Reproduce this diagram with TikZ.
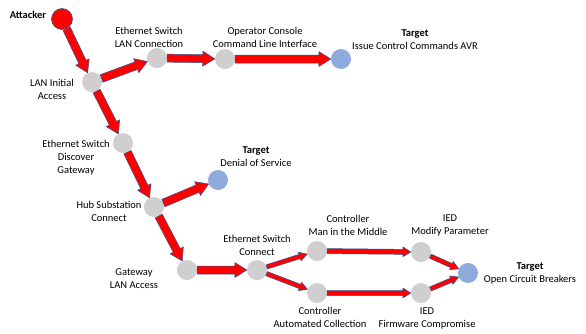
\documentclass[tikz,border=0pt]{standalone}
\usepackage{fontspec}
\setmainfont{Carlito}
\usetikzlibrary{calc}
\definecolor{waygray}{HTML}{D0CECE}
\definecolor{targetblue}{HTML}{8FAADC}
\definecolor{edgeblue}{HTML}{2F5597}
% block arrow: from, to, half shaft, half head, head length
\newcommand\attackhop[5]{%
	\path (#1) -- (#2) coordinate[pos=0] (hs) coordinate[pos=1] (he);
	\coordinate (hh) at ($(he)!#5!(hs)$);
	\filldraw[hop] ($(hs)!#3!90:(he)$) -- ($(hh)!#3!90:(he)$) -- ($(hh)!#4!90:(he)$) -- (he)
		-- ($(hh)!#4!-90:(he)$) -- ($(hh)!#3!-90:(he)$) -- ($(hs)!#3!-90:(he)$) -- cycle;
}
\begin{document}
\begin{tikzpicture}[
		x=1pt,y=-1pt,
		line join=round,
		hop/.style={fill=red,draw=edgeblue,line width=0.5pt},
		waypoint/.style={circle,minimum size=20pt,inner sep=0pt,fill=waygray},
		target/.style={circle,minimum size=20pt,inner sep=0pt,fill=targetblue},
		lbl/.style={font=\fontsize{10.5}{13}\selectfont,align=center,inner sep=0pt}
		]
		\useasboundingbox (0,0) rectangle (586,333);
		% nodes
		\node[circle,minimum size=21pt,inner sep=0pt,fill=red,draw=edgeblue,line width=0.6pt] (attacker) at (62,19) {};
		\node[waypoint] (lan) at (92,82) {};
		\node[waypoint] (eswlan) at (157,58) {};
		\node[waypoint] (opcon) at (225,59) {};
		\node[target] (avr) at (341,59) {};
		\node[waypoint] (esdisc) at (123,143) {};
		\node[waypoint] (hub) at (154,207) {};
		\node[target] (dos) at (218,180) {};
		\node[waypoint] (gwlan) at (187,270) {};
		\node[waypoint] (esconn) at (257,270) {};
		\node[waypoint] (ctlmitm) at (317,251) {};
		\node[waypoint] (ctlauto) at (317,293) {};
		\node[waypoint] (iedmod) at (421,252) {};
		\node[waypoint] (iedfw) at (421,293) {};
		\node[target] (ocb) at (468,273) {};
		% labels
		\node[lbl] (attackerlbl) at (28,15) {\textbf{Attacker}};
		\node[lbl] (lanlbl) at (52,89) {LAN Initial\\Access};
		\node[lbl] (eswlanlbl) at (149,37) {Ethernet Switch\\LAN Connection};
		\node[lbl] (opconlbl) at (265,37) {Operator Console\\Command Line Interface};
		\node[lbl] (avrlbl) at (415,40) {\textbf{Target}\\Issue Control Commands AVR};
		\node[lbl] (esdisclbl) at (76,158) {Ethernet Switch\\Discover\\Gateway};
		\node[lbl] (hublbl) at (109,211) {Hub Substation\\Connect};
		\node[lbl] (doslbl) at (256,157) {\textbf{Target}\\Denial of Service};
		\node[lbl] (gwlanlbl) at (134,279) {Gateway\\LAN Access};
		\node[lbl] (esconnlbl) at (257,245) {Ethernet Switch\\Connect};
		\node[lbl] (ctlmitmlbl) at (348,225) {Controller\\Man in the Middle};
		\node[lbl] (ctlautolbl) at (320,317) {Controller\\Automated Collection};
		\node[lbl] (iedmodlbl) at (450,225) {IED\\Modify Parameter};
		\node[lbl] (iedfwlbl) at (427,318) {IED\\Firmware Compromise};
		\node[lbl] (ocblbl) at (530,273) {\textbf{Target}\\Open Circuit Breakers};
		% attack paths
		\attackhop{attacker}{lan}{4pt}{7.5pt}{12pt}
		\attackhop{lan}{eswlan}{4pt}{7.5pt}{12pt}
		\attackhop{eswlan}{opcon}{4pt}{7.5pt}{12pt}
		\attackhop{opcon}{avr}{4pt}{7.5pt}{12pt}
		\attackhop{lan}{esdisc}{4pt}{7.5pt}{12pt}
		\attackhop{esdisc}{hub}{4pt}{7.5pt}{12pt}
		\attackhop{hub}{dos}{4pt}{7.5pt}{12pt}
		\attackhop{hub}{gwlan}{4pt}{7.5pt}{12pt}
		\attackhop{gwlan}{esconn}{4pt}{7.5pt}{12pt}
		\attackhop{esconn}{ctlmitm}{2.2pt}{4.5pt}{8pt}
		\attackhop{esconn}{ctlauto}{2.2pt}{4.5pt}{8pt}
		\attackhop{ctlmitm}{iedmod}{2.5pt}{5pt}{8pt}
		\attackhop{ctlauto}{iedfw}{2.5pt}{5pt}{8pt}
		\attackhop{iedmod}{ocb}{2.2pt}{4.5pt}{8pt}
		\attackhop{iedfw}{ocb}{2.2pt}{4.5pt}{8pt}
\end{tikzpicture}
\end{document}
